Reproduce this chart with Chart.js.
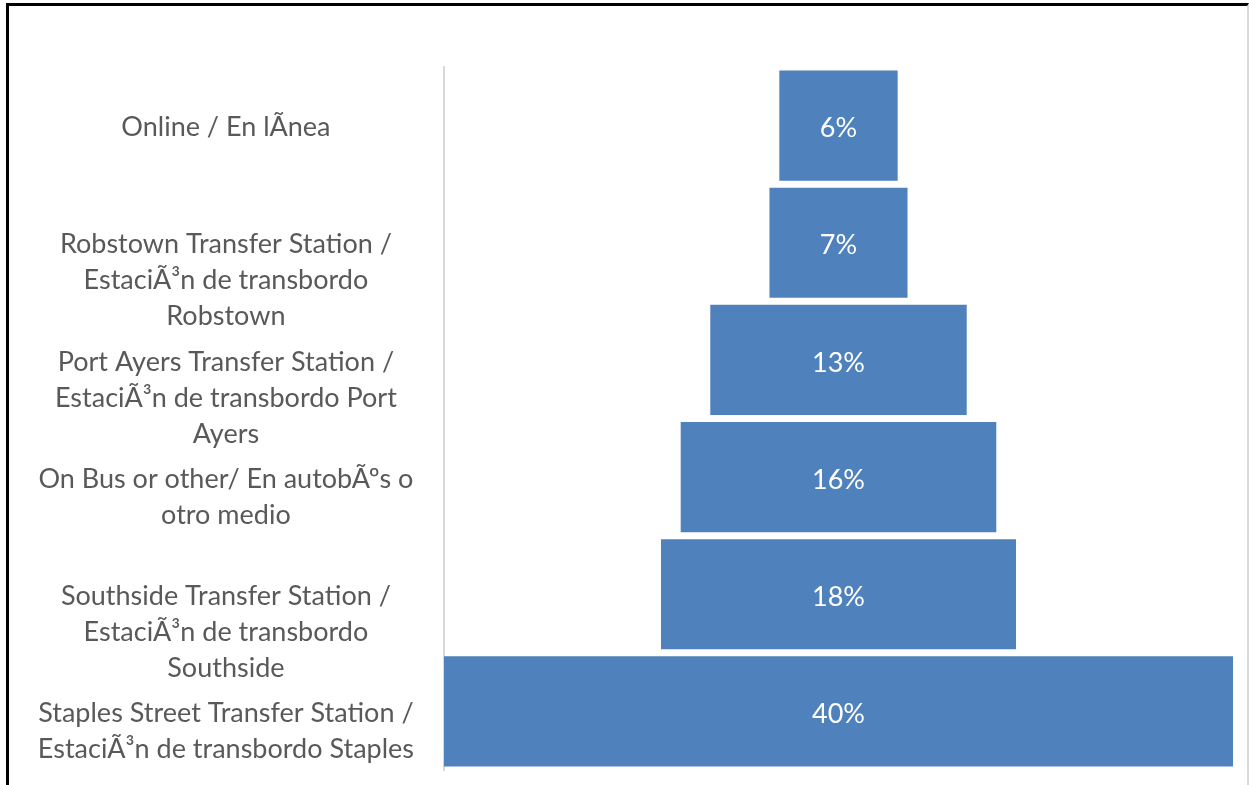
<!DOCTYPE html>
<html>
<head>
<meta charset="utf-8">
<script src="https://cdn.jsdelivr.net/npm/chart.js@4.4.1/dist/chart.umd.min.js"></script>
<style>
  html, body { margin: 0; padding: 0; background: #fff; overflow: hidden; }
  #frame {
    position: absolute; left: 6px; top: 3px; width: 1238px; height: 800px;
    border-top: 3px solid #000; border-left: 3px solid #000; border-right: 2px solid #d9d9d9;
  }
  #wrap { position: absolute; left: 0; top: 0; width: 1249px; height: 785px; }
</style>
</head>
<body>
<div id="frame"></div>
<div id="wrap"><canvas id="myChart" width="1249" height="785"></canvas></div>
<script>
// Category names, one array entry per printed line
var categories = [
  ['Online / En lÃnea'],
  ['Robstown Transfer Station /', 'EstaciÃ³n de transbordo', 'Robstown'],
  ['Port Ayers Transfer Station /', 'EstaciÃ³n de transbordo Port', 'Ayers'],
  ['On Bus or other/ En autobÃºs o', 'otro medio'],
  ['Southside Transfer Station /', 'EstaciÃ³n de transbordo', 'Southside'],
  ['Staples Street Transfer Station /', 'EstaciÃ³n de transbordo Staples']
];

// Share of responses (%)
var shares = [6, 7, 13, 16, 18, 40];

var maxShare = 20;

// Funnel: each bar spans -v/2 .. v/2 around the centre
var spans = shares.map(function(v) { return [-v / 2, v / 2]; });

// Writes the percentage in the middle of each bar
const barLabels = {
  id: 'barLabels',
  afterDatasetsDraw(chart) {
    const ctx = chart.ctx;
    const meta = chart.getDatasetMeta(0);
    ctx.save();
    ctx.fillStyle = '#ffffff';
    ctx.font = '27px Lato';
    ctx.textAlign = 'center';
    ctx.textBaseline = 'middle';
    meta.data.forEach(function(bar, i) {
      const c = bar.getCenterPoint();
      ctx.fillText(shares[i] + '%', c.x, c.y + 3);
    });
    ctx.restore();
  }
};

var ctx = document.getElementById('myChart').getContext('2d');

var myChart = new Chart(ctx, {
  type: 'bar',
  data: {
    labels: categories,
    datasets: [{
      data: spans,
      backgroundColor: '#4f81bd',
      borderWidth: 0,
      barPercentage: 0.94,
      categoryPercentage: 1
    }]
  },
  plugins: [barLabels],
  options: {
    responsive: false,
    animation: false,
    indexAxis: 'y',
    layout: { padding: { top: 67, bottom: 15, right: 16, left: 10 } },
    scales: {
      x: {
        display: false,
        min: -maxShare,
        max: maxShare
      },
      y: {
        grid: { display: false, drawTicks: false },
        border: { display: true, color: '#d9d9d9', width: 2 },
        afterFit: function(scale) {
          scale.width = 434;
          // labels may overhang the plot; keep the plot full height
          scale.paddingTop = 0;
          scale.paddingBottom = 0;
        },
        ticks: {
          autoSkip: false,
          crossAlign: 'center',
          padding: 30,
          labelOffset: 2,
          color: '#595959',
          font: { family: 'Lato', size: 27, lineHeight: 1.333 },
          // first line sits level with the bar centre, the rest hang below
          callback: function(value, index) {
            var lines = categories[index];
            var pad = new Array(lines.length - 1).fill('');
            return pad.concat(lines);
          }
        }
      }
    },
    plugins: {
      legend: { display: false },
      tooltip: { enabled: false }
    }
  }
});
</script>
</body>
</html>
